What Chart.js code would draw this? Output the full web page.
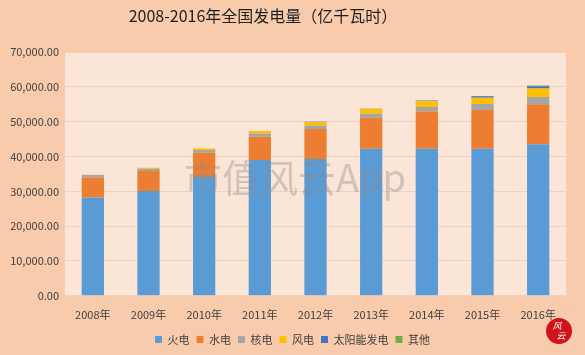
<!DOCTYPE html>
<html>
<head>
<meta charset="utf-8">
<script src="https://cdn.jsdelivr.net/npm/chart.js@4/dist/chart.umd.min.js"></script>
<style>
html,body{margin:0;padding:0;background:#F8CBAD;}
#wrap{width:585px;height:355px;position:relative;}
</style>
</head>
<body>
<div id="wrap"><canvas id="c" width="585" height="355"></canvas></div>
<script>
const categories = ["2008年","2009年","2010年","2011年","2012年","2013年","2014年","2015年","2016年"];
const thermal = [28200, 30100, 34100, 39000, 39300, 42200, 42200, 42200, 43500];
const hydro   = [5750, 5700, 7000, 6700, 8600, 8950, 10700, 11150, 11500];
const nuclear = [700, 700, 750, 870, 980, 1110, 1330, 1700, 2100];
const wind    = [130, 280, 450, 740, 1030, 1380, 1600, 1850, 2400];
const solar   = [0, 0, 1, 6, 36, 84, 235, 395, 660];
const other   = [0, 0, 0, 0, 0, 0, 0, 100, 200];
const seriesNames = ["火电","水电","核电","风电","太阳能发电","其他"];
const yTicks = [0, 10000, 20000, 30000, 40000, 50000, 60000, 70000];
const titleText = "2008-2016年全国发电量（亿千瓦时）";

const colors = ["#5B9BD5","#ED7D31","#A5A5A5","#FFC000","#4472C4","#70AD47"];
const seriesData = [thermal, hydro, nuclear, wind, solar, other];

const FONT = "'Noto Sans CJK SC','Noto Sans',sans-serif";

const bgPlugin = {
  id: 'bg',
  afterLayout(chart) {
    const lg = chart.legend;
    if (lg) { lg.left += 7; lg.right += 7; lg.top += 2; lg.bottom += 2; }
  },
  beforeDraw(chart) {
    const {ctx, chartArea: a} = chart;
    ctx.save();
    ctx.fillStyle = '#F8CBAD';
    ctx.fillRect(0, 0, chart.width, chart.height);
    ctx.fillStyle = '#FBE5D6';
    ctx.fillRect(a.left, a.top, a.right - a.left, a.bottom - a.top);
    // title
    ctx.font = "16px " + FONT;
    ctx.fillStyle = '#1F1F1F';
    ctx.textAlign = 'center';
    ctx.textBaseline = 'middle';
    ctx.fillText(titleText, 263, 16);
    ctx.restore();
  },
  afterDatasetsDraw(chart) {
    const {ctx} = chart;
    ctx.save();
    ctx.font = "38px 'Noto Sans CJK SC', sans-serif";
    ctx.fillStyle = 'rgba(140,140,140,0.38)';
    ctx.textAlign = 'center';
    ctx.textBaseline = 'middle';
    ctx.fillText('市值风云App', 295, 178);
    // logo
    ctx.beginPath();
    ctx.arc(559, 331, 13, 0, Math.PI * 2);
    ctx.fillStyle = '#D0121B';
    ctx.fill();
    ctx.fillStyle = '#FFFFFF';
    ctx.font = "italic 9px 'Noto Sans CJK SC', sans-serif";
    ctx.fillText('风', 557, 326);
    ctx.fillText('云', 561, 336);
    ctx.restore();
  }
};

new Chart(document.getElementById('c'), {
  type: 'bar',
  data: {
    labels: categories,
    datasets: seriesNames.map((n, i) => ({
      label: n,
      data: seriesData[i],
      backgroundColor: colors[i],
      borderWidth: 0,
      categoryPercentage: 1.0,
      barPercentage: 0.4
    }))
  },
  options: {
    responsive: false,
    animation: false,
    devicePixelRatio: 1,
    layout: { padding: { left: 5, right: 19, top: 52, bottom: 2 } },
    plugins: {
      title: { display: false },
      legend: {
        position: 'bottom',
        labels: {
          color: '#404040',
          font: { family: FONT, size: 11 },
          boxWidth: 7, boxHeight: 7,
          padding: 7
        }
      },
      tooltip: { enabled: false }
    },
    scales: {
      x: {
        stacked: true,
        grid: { display: false },
        border: { display: false },
        ticks: { color: '#404040', font: { family: FONT, size: 11 }, maxRotation: 0, padding: 4 }
      },
      y: {
        stacked: true,
        min: 0, max: 70000,
        afterBuildTicks(scale) { scale.ticks = yTicks.map(v => ({ value: v })); },
        afterFit(scale) { scale.width = 60; },
        grid: { color: '#EBD3C3', lineWidth: 1, drawTicks: false },
        border: { display: false },
        ticks: {
          color: '#404040',
          font: { family: FONT, size: 11 },
          padding: 6,
          callback: v => v.toLocaleString('en-US', { minimumFractionDigits: 2, maximumFractionDigits: 2 })
        }
      }
    }
  },
  plugins: [bgPlugin]
});
</script>
</body>
</html>
